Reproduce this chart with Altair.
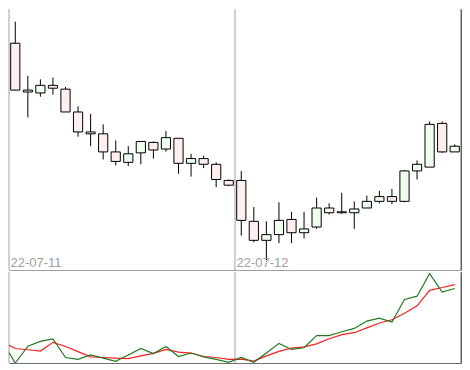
import altair as alt
import pandas as pd

# ---- candle data (36 bars, two sessions of 18) ----
idx = list(range(36))
open_ = [264.0, 214.7, 211.7, 219.7, 215.7, 191.7, 170.7, 168.7, 149.7, 138.7,
         148.7, 159.7, 152.7, 164.0, 137.7, 142.7, 136.7, 119.7, 119.7, 76.7,
         56.7, 62.7, 78.7, 64.7, 70.7, 90.7, 86.7, 85.7, 90.7, 97.7,
         102.7, 97.7, 129.7, 133.7, 179.7, 149.7]
close = [214.7, 212.7, 219.7, 216.7, 191.7, 170.7, 168.7, 149.7, 139.7, 147.7,
         160.7, 151.7, 164.7, 137.7, 142.7, 136.7, 120.7, 114.7, 77.7, 56.7,
         62.7, 77.7, 64.7, 68.7, 90.7, 85.7, 85.7, 89.7, 97.7, 102.7,
         97.7, 129.7, 136.7, 178.7, 149.7, 155.7]
high = [286.7, 229.7, 226.0, 228.0, 218.0, 197.7, 189.7, 178.7, 161.7, 155.7,
        160.7, 160.7, 171.7, 164.0, 147.7, 145.7, 138.7, 120.7, 129.7, 91.7,
        76.7, 96.7, 86.7, 86.7, 101.7, 95.7, 106.7, 97.7, 103.7, 108.7,
        110.7, 130.7, 140.7, 181.7, 181.7, 157.7]
low = [214.7, 186.0, 207.7, 210.0, 191.7, 165.7, 155.7, 141.7, 135.7, 134.7,
       136.7, 142.7, 150.0, 126.7, 123.7, 132.7, 112.7, 113.7, 61.7, 54.7,
       35.7, 53.7, 53.7, 58.7, 68.7, 83.7, 84.7, 68.7, 90.7, 95.7,
       94.7, 96.7, 120.7, 133.7, 148.7, 149.7]

# ---- indicator lines (index -1 .. 35) ----
ind_idx = list(range(-1, 36))
green_vals = [21.4, 0.0, 17.3, 22.3, 25.0, 5.7, 3.7, 8.3, 5.0, 1.7, 8.3,
              15.0, 9.7, 17.0, 6.7, 10.3, 6.3, 3.7, 0.7, 5.7, 0.7,
              10.3, 20.3, 14.0, 15.7, 28.3, 28.3, 32.3, 35.7, 43.3, 46.3,
              42.3, 65.7, 69.0, 92.3, 73.3, 77.0]
red_vals = [21.6, 15.0, 13.7, 12.3, 21.3, 17.0, 11.7, 6.3, 5.7, 5.0, 4.5,
            7.3, 10.0, 14.0, 11.3, 10.3, 6.7, 5.7, 3.7, 4.0, 2.0,
            7.3, 12.0, 15.3, 16.7, 19.7, 25.0, 29.3, 31.3, 36.3, 41.3,
            44.7, 51.3, 59.0, 75.0, 78.0, 81.0]

# ---- session labels / boundaries ----
label_pos = [-0.5, 17.5]
label_text = ["22-07-11", "22-07-12"]
right_edge = [35.5]

W = 452
H1 = 261
H2 = 91

candles = pd.DataFrame({"i": idx, "open": open_, "close": close, "high": high, "low": low})
ind = pd.DataFrame({"i": ind_idx, "green": green_vals, "red": red_vals})
labels = pd.DataFrame({"i": label_pos, "t": label_text})
edge = pd.DataFrame({"i": right_edge})

xs = alt.Scale(domain=[-0.5, 35.5], nice=False, zero=False, padding=0)

x_top = alt.X("i:Q", scale=xs, axis=alt.Axis(values=label_pos, grid=False,
                                              labels=False, ticks=False, domain=True,
                                              domainColor="#a0a0a0", title=None))
x_bot = alt.X("i:Q", scale=xs, axis=alt.Axis(values=label_pos, grid=False,
                                              labels=False, ticks=False, domain=True,
                                              domainColor="#707070", title=None))
yaxis = alt.Axis(orient="right", labels=False, ticks=False, grid=False, domain=True,
                 domainColor="#606060", title=None)
ys_top = alt.Scale(domain=[25.5, 300], nice=False, zero=False)
ys_bot = alt.Scale(domain=[0, 94], nice=False, zero=False)

# session boundary lines and right frame edge
sess_top = alt.Chart(labels).mark_rule(color="#a0a0a0", strokeWidth=1).encode(x=x_top)
sess_bot = alt.Chart(labels).mark_rule(color="#a0a0a0", strokeWidth=1).encode(x=x_bot)
edge_top = alt.Chart(edge).mark_rule(color="#606060", strokeWidth=1).encode(x=x_top)
edge_bot = alt.Chart(edge).mark_rule(color="#606060", strokeWidth=1).encode(x=x_bot)

base = alt.Chart(candles)
wicks = base.mark_rule(color="black", strokeWidth=1).encode(
    x=x_top,
    y=alt.Y("high:Q", scale=ys_top, axis=yaxis),
    y2="low:Q",
)
bodies = base.mark_bar(stroke="black", strokeWidth=1, size=9.2).encode(
    x=x_top,
    y=alt.Y("open:Q", scale=ys_top, axis=yaxis),
    y2="close:Q",
    color=alt.condition("datum.close >= datum.open", alt.value("#eeffee"), alt.value("#ffeeee")),
)
texts = alt.Chart(labels).mark_text(align="left", baseline="alphabetic", dx=1.5,
                                    fontSize=13, color="#a0a0a0",
                                    font="Liberation Sans").encode(
    x=x_top,
    y=alt.value(H1 - 3),
    text="t:N",
)
top = alt.layer(sess_top, edge_top, wicks, bodies, texts).properties(width=W, height=H1)

ibase = alt.Chart(ind)
gline = ibase.mark_line(color="#237a23", strokeWidth=1.2, clip=True).encode(
    x=x_bot,
    y=alt.Y("green:Q", scale=ys_bot, axis=yaxis),
)
rline = ibase.mark_line(color="#ff2020", strokeWidth=1.2, clip=True).encode(
    x=x_bot,
    y=alt.Y("red:Q", scale=ys_bot, axis=yaxis),
)
bottom = alt.layer(sess_bot, edge_bot, rline, gline).properties(width=W, height=H2)

chart = alt.vconcat(top, bottom, spacing=0).resolve_scale(y="independent").properties(
    padding=0, background="white"
).configure_view(stroke=None)

chart.save("out.html", embed_options={"renderer": "svg", "actions": False})
